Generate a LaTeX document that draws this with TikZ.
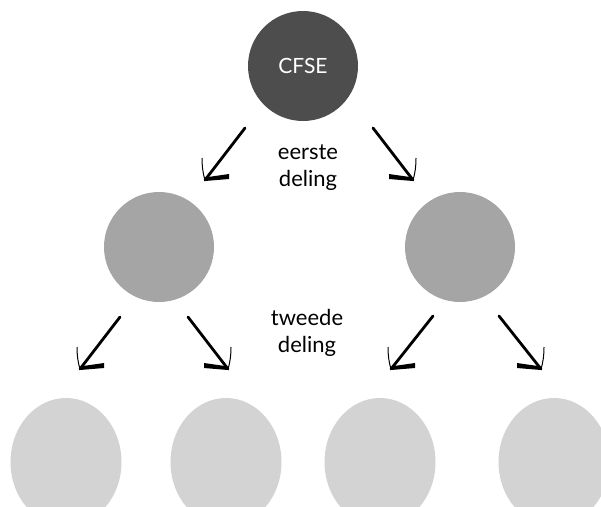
\documentclass[tikz,border=0pt]{standalone}
\usepackage{fontspec}
\setmainfont{Lato}
\usetikzlibrary{calc,shapes.geometric}
\definecolor{topc}{RGB}{77,77,77}
\definecolor{midc}{RGB}{165,165,165}
\definecolor{botc}{RGB}{211,211,211}
\tikzset{
  cell/.style={circle, inner sep=0pt, minimum size=110pt},
  lowcell/.style={ellipse, inner sep=0pt, minimum width=111pt, minimum height=128pt, fill=botc},
  lbl/.style={align=center, font=\fontsize{22}{27}\selectfont, text=black},
  shaft/.style={line width=2.8pt, line cap=round},
  thinarm/.style={line width=1pt},
}
\newcommand\splitarrow[3]{%
  \draw[shaft] (#1) -- (#2);
  \begin{scope}[shift={(#2)}, xscale=#3]
    \fill (0,1) -- (24,-1) -- (24,-6) -- (3,-3) -- cycle;
    \draw[thinarm] (0,0) .. controls (-2,-6) and (-3,-14) .. (-3,-22);
  \end{scope}}
\begin{document}
\begin{tikzpicture}[x=1pt,y=-1pt]
\useasboundingbox (0,0) rectangle (601,506);
\clip (0,0) rectangle (601,506);
\node[cell, fill=topc, text=white, font=\fontsize{21}{24}\selectfont] (top) at (303,66) {CFSE};
\node[cell, fill=midc] (ml) at (159,247) {};
\node[cell, fill=midc] (mr) at (460,247) {};
\node[lowcell] (b1) at (66,462) {};
\node[lowcell] (b2) at (226,462) {};
\node[lowcell] (b3) at (380,462) {};
\node[lowcell] (b4) at (554,462) {};
\node[lbl] (l1) at (308,168) {eerste\\deling};
\node[lbl] (l2) at (307,333) {tweede\\deling};
\coordinate (a1s) at (245,128); \coordinate (a1t) at (205,180);
\coordinate (a2s) at (373,128); \coordinate (a2t) at (413,180);
\coordinate (a3s) at (120,317); \coordinate (a3t) at (80,369);
\coordinate (a4s) at (188,317); \coordinate (a4t) at (228,369);
\coordinate (a5s) at (433,316); \coordinate (a5t) at (391,369);
\coordinate (a6s) at (499,316); \coordinate (a6t) at (541,369);
\splitarrow{a1s}{a1t}{1}
\splitarrow{a2s}{a2t}{-1}
\splitarrow{a3s}{a3t}{1}
\splitarrow{a4s}{a4t}{-1}
\splitarrow{a5s}{a5t}{1}
\splitarrow{a6s}{a6t}{-1}
\end{tikzpicture}
\end{document}
